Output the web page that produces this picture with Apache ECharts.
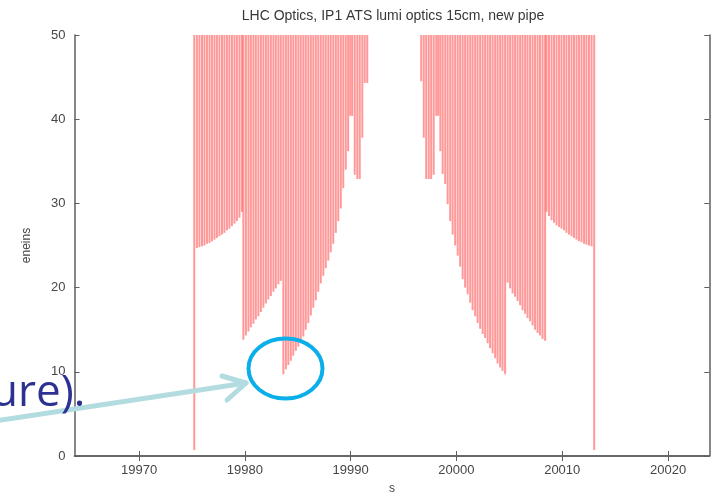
<!DOCTYPE html>
<html>
<head>
<meta charset="utf-8">
<script src="https://cdn.jsdelivr.net/npm/echarts@6/dist/echarts.min.js"></script>
<style>
  html, body { margin: 0; padding: 0; background: #fff; }
  #chart { width: 714px; height: 500px; }
</style>
</head>
<body>
<div id="chart"></div>
<script>
// ---- data ----
const titleText = 'LHC Optics, IP1 ATS lumi optics 15cm, new pipe';
const xName = 's';
const yName = 'eneins';
const xTickLabels = [19970, 19980, 19990, 20000, 20010, 20020];
const yTickLabels = [0, 10, 20, 30, 40, 50];
const yMax = 50;

// left half of the insertion (s positions and lower end of each impulse)
const leftS = [
  19975.22,
  19975.47, 19975.71, 19975.95, 19976.18, 19976.42, 19976.66, 19976.89, 19977.13, 19977.36, 19977.60,
  19977.84, 19978.07, 19978.31, 19978.54, 19978.78, 19979.02, 19979.25, 19979.49, 19979.72,
  19979.86, 19980.10, 19980.34, 19980.57, 19980.81, 19981.04, 19981.28, 19981.52, 19981.75, 19981.99,
  19982.22, 19982.46, 19982.70, 19982.93, 19983.17, 19983.40,
  19983.64, 19983.88, 19984.11, 19984.35, 19984.58, 19984.82, 19985.06, 19985.29, 19985.53, 19985.76,
  19986.00, 19986.24, 19986.47, 19986.71, 19986.94, 19987.18, 19987.42, 19987.65, 19987.89, 19988.12,
  19988.36, 19988.60, 19988.83, 19989.07, 19989.30, 19989.54, 19989.76, 19989.96, 19990.15, 19990.39,
  19990.63, 19990.86, 19991.10, 19991.33, 19991.57
];
const leftV = [
  0.7,
  24.7, 24.8, 24.9, 25.0, 25.2, 25.3, 25.5, 25.7, 25.9, 26.1,
  26.3, 26.5, 26.8, 27.0, 27.3, 27.6, 27.9, 28.3, 29.0,
  13.8, 14.3, 14.8, 15.3, 15.7, 16.2, 16.6, 17.1, 17.6, 18.1,
  18.6, 19.0, 19.5, 19.9, 20.4, 20.8,
  9.7, 10.3, 10.8, 11.3, 11.9, 12.5, 13.0, 13.6, 14.2, 15.0,
  15.8, 16.7, 17.6, 18.5, 19.5, 20.5, 21.4, 22.3, 23.2, 24.2,
  25.2, 26.5, 27.9, 29.4, 31.8, 34.0, 36.2, 40.4, 40.4, 33.4,
  32.9, 32.9, 37.8, 44.3, 44.3
];

// right half of the insertion
const rightS = [
  19996.67, 19996.91, 19997.14, 19997.38, 19997.61, 19997.85, 19998.09, 19998.28, 19998.48, 19998.70,
  19998.94, 19999.17, 19999.41, 19999.64, 19999.88, 20000.12, 20000.35, 20000.59, 20000.82, 20001.06,
  20001.30, 20001.53, 20001.77, 20002.00, 20002.24, 20002.48, 20002.71, 20002.95, 20003.18, 20003.42,
  20003.66, 20003.89, 20004.13, 20004.36, 20004.60,
  20004.84, 20005.07, 20005.31, 20005.54, 20005.78, 20006.02, 20006.25, 20006.49, 20006.72, 20006.96,
  20007.20, 20007.43, 20007.67, 20007.90, 20008.14, 20008.38,
  20008.52, 20008.75, 20008.99, 20009.22, 20009.46, 20009.70, 20009.93, 20010.17, 20010.40, 20010.64,
  20010.88, 20011.11, 20011.35, 20011.58, 20011.82, 20012.06, 20012.29, 20012.53, 20012.77,
  20013.02
];
const rightV = [
  44.5, 37.8, 32.9, 32.9, 32.9, 33.4, 40.4, 40.4, 36.2, 33.5,
  32.3, 29.9, 27.9, 26.3, 25.0, 23.8, 22.5, 21.0, 20.0, 19.2,
  18.2, 17.3, 16.6, 15.8, 15.1, 14.5, 14.0, 13.4, 12.8, 12.2,
  11.6, 11.0, 10.5, 10.1, 9.7,
  20.6, 19.9, 19.3, 18.9, 18.4, 17.9, 17.3, 16.9, 16.4, 16.0,
  15.5, 15.0, 14.6, 14.3, 13.9, 13.7,
  29.0, 28.5, 28.0, 27.7, 27.4, 27.2, 27.0, 26.8, 26.5, 26.3,
  26.1, 25.9, 25.7, 25.5, 25.4, 25.2, 25.1, 25.0, 24.9,
  0.7
];

// ---- chart ----
const impulses = leftS.map((s, i) => [s, leftV[i]])
  .concat(rightS.map((s, i) => [s, rightV[i]]));

const FONT = 'Liberation Sans, Arial, sans-serif';
const AXIS_COLOR = '#5f5f5f';
const LABEL_COLOR = '#464646';

const chart = echarts.init(document.getElementById('chart'), null, { renderer: 'canvas' });

const frameAxis = {
  axisLine: { show: true, lineStyle: { color: AXIS_COLOR, width: 1.5 } },
  splitLine: { show: false }
};

chart.setOption({
  animation: false,
  backgroundColor: '#ffffff',
  title: {
    text: titleText,
    left: 393,
    top: 9,
    padding: 0,
    textAlign: 'center',
    textStyle: { fontFamily: FONT, fontSize: 14, fontWeight: 'normal', color: '#383838' }
  },
  grid: { left: 74.5, right: 4.7, top: 35, bottom: 41 },
  xAxis: [
    Object.assign({
      type: 'value', position: 'bottom', min: 19963.9, max: 20023.9,
      name: xName, nameLocation: 'middle', nameGap: 27,
      nameTextStyle: { fontFamily: FONT, fontSize: 12, color: LABEL_COLOR },
      axisTick: { show: true, inside: true, length: 5, customValues: xTickLabels, lineStyle: { color: AXIS_COLOR } },
      axisLabel: { customValues: xTickLabels, formatter: v => String(v), margin: 8,
        fontFamily: FONT, fontSize: 13, color: LABEL_COLOR }
    }, frameAxis),
    Object.assign({
      type: 'value', position: 'top', min: 19963.9, max: 20023.9,
      axisTick: { show: true, inside: true, length: 5, customValues: xTickLabels, lineStyle: { color: AXIS_COLOR } },
      axisLabel: { show: false }
    }, frameAxis)
  ],
  yAxis: [
    Object.assign({
      type: 'value', position: 'left', min: yTickLabels[0], max: yMax, interval: 10,
      name: yName, nameLocation: 'middle', nameGap: 42, nameRotate: 90,
      nameTextStyle: { fontFamily: FONT, fontSize: 12, color: LABEL_COLOR },
      axisTick: { show: true, inside: true, length: 5, lineStyle: { color: AXIS_COLOR } },
      axisLabel: { margin: 9, fontFamily: FONT, fontSize: 13, color: LABEL_COLOR }
    }, frameAxis),
    Object.assign({
      type: 'value', position: 'right', min: yTickLabels[0], max: yMax, interval: 10,
      axisTick: { show: true, inside: true, length: 5, lineStyle: { color: AXIS_COLOR } },
      axisLabel: { show: false }
    }, frameAxis)
  ],
  series: [{
    type: 'custom',
    xAxisIndex: 0,
    yAxisIndex: 0,
    clip: true,
    data: impulses,
    renderItem: function (params, api) {
      const s = api.value(0);
      const lo = api.coord([s, api.value(1)]);
      const hi = api.coord([s, yMax]);
      return {
        type: 'line',
        shape: { x1: lo[0], y1: lo[1], x2: hi[0], y2: hi[1] },
        style: { stroke: 'rgba(255, 80, 80, 0.58)', lineWidth: 2 }
      };
    }
  }],
  graphic: [
    {
      type: 'polyline', z: 100,
      shape: { points: [[-5, 421], [246, 383]] },
      style: { stroke: '#b2dcdf', lineWidth: 5, lineCap: 'round', fill: null }
    },
    {
      type: 'polyline', z: 100,
      shape: { points: [[222, 376], [246, 383], [227, 400]] },
      style: { stroke: '#b2dcdf', lineWidth: 5, lineCap: 'round', lineJoin: 'round', fill: null }
    },
    {
      type: 'ellipse', z: 101,
      shape: { cx: 285.5, cy: 368.5, rx: 37, ry: 30 },
      style: { stroke: '#0aaee8', lineWidth: 4, fill: null }
    },
    {
      type: 'text', z: 102,
      x: -9, y: 393,
      style: { text: 'ure).', fontFamily: 'Open Sans, Noto Sans, sans-serif', fontSize: 44,
        fill: '#2d3192', verticalAlign: 'middle', align: 'left' }
    }
  ]
});
</script>
</body>
</html>
